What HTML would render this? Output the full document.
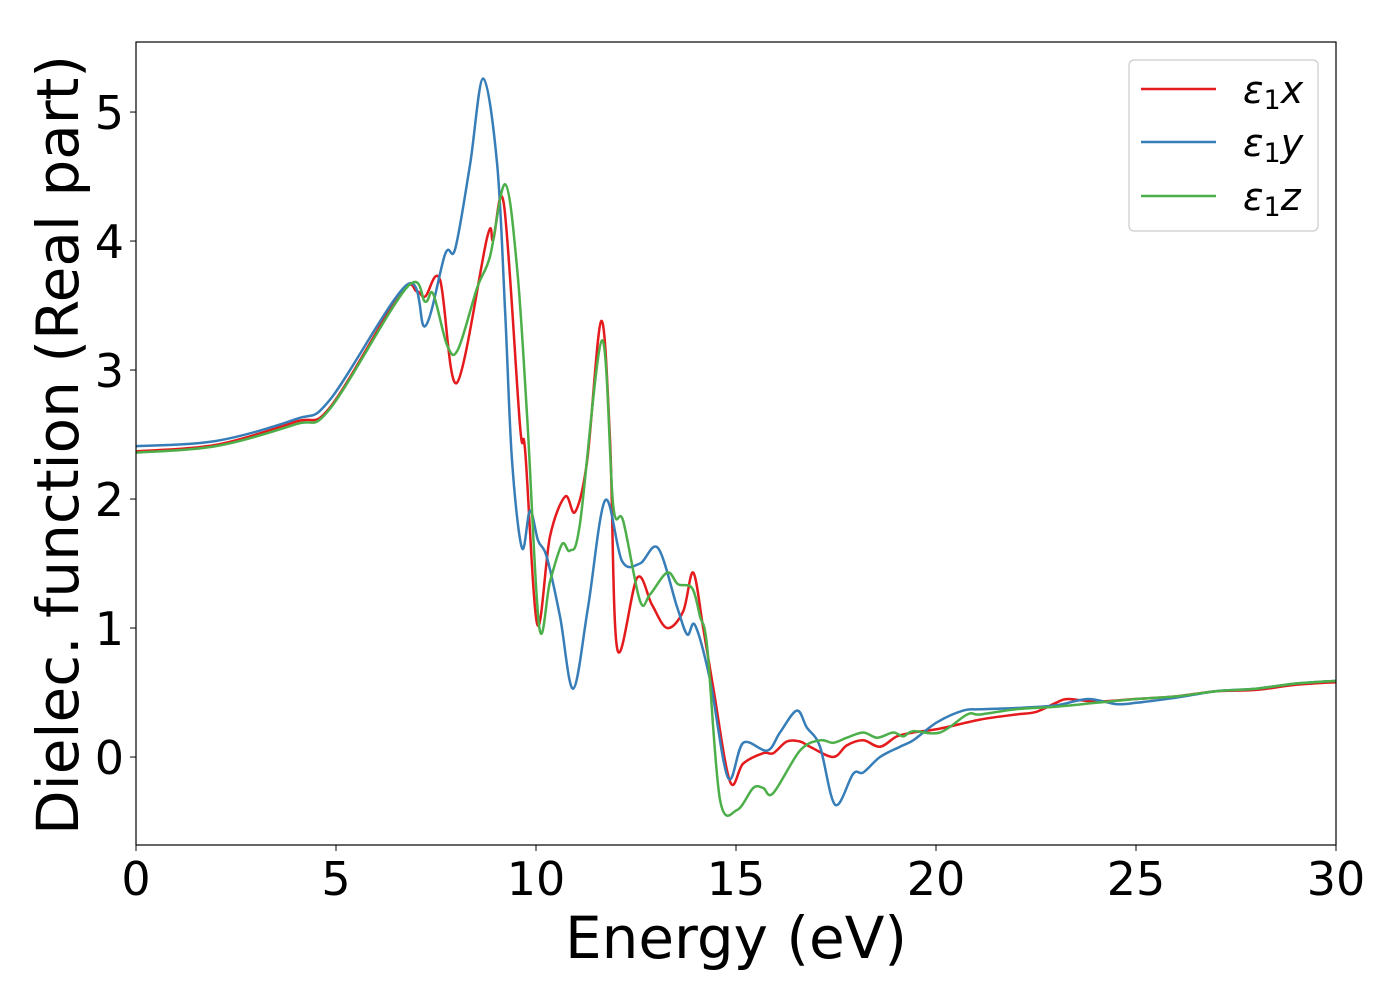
<!DOCTYPE html>
<html><head><meta charset="utf-8"><style>
html,body{margin:0;padding:0;background:#fff;}
svg{display:block;font-family:"DejaVu Sans","Liberation Sans",sans-serif;}
</style></head><body>
<svg id="chart" width="1400" height="1000" viewBox="0 0 1400 1000" xmlns="http://www.w3.org/2000/svg">
<rect x="0" y="0" width="1400" height="1000" fill="#fff"/>
<g id="series"></g>
<g id="axes"></g>
<rect x="136" y="42" width="1200" height="803" fill="none" stroke="#000" stroke-width="1.2"/>
<text x="736" y="958" font-size="58" text-anchor="middle">Energy (eV)</text>
<text transform="translate(78,445) rotate(-90)" font-size="58" text-anchor="middle">Dielec. function (Real part)</text>
<g>
<rect x="1129" y="60" width="189" height="171" rx="5" fill="#fff" stroke="#ccc" stroke-width="1.2"/>
<line x1="1141" y1="89" x2="1216" y2="89" stroke="#e41a1c" stroke-width="2.5"/>
<text x="1243" y="103" font-size="38" font-style="italic">ε<tspan font-style="normal" font-size="27" dy="6">1</tspan><tspan dy="-6">x</tspan></text>
<line x1="1141" y1="142" x2="1216" y2="142" stroke="#377eb8" stroke-width="2.5"/>
<text x="1243" y="156" font-size="38" font-style="italic">ε<tspan font-style="normal" font-size="27" dy="6">1</tspan><tspan dy="-6">y</tspan></text>
<line x1="1141" y1="196" x2="1216" y2="196" stroke="#4daf4a" stroke-width="2.5"/>
<text x="1243" y="210" font-size="38" font-style="italic">ε<tspan font-style="normal" font-size="27" dy="6">1</tspan><tspan dy="-6">z</tspan></text>
</g>
</svg>
<script>
const xTicks=[0,5,10,15,20,25,30];
const yTicks=[0,1,2,3,4,5];
const xE=[0,2,4,4.85,6.6,7.02,7.23,7.6,8.02,8.78,8.93,9.2,9.6,9.73,10.03,10.35,10.73,10.98,11.28,11.63,11.85,12.03,12.53,12.9,13.28,13.68,13.93,14.18,14.43,14.85,15.18,15.68,15.93,16.27,16.6,16.85,17.43,17.77,18.18,18.6,19.02,19.43,20.1,21.1,22,22.5,23,23.3,24,25,26,27,28,29,30];
const xV=[2.37,2.42,2.6,2.71,3.59,3.61,3.57,3.7,2.9,4.03,4.01,4.28,2.57,2.37,1.03,1.71,2.02,1.9,2.3,3.38,2.46,0.84,1.39,1.18,1.0,1.13,1.43,1.0,0.54,-0.19,-0.05,0.03,0.03,0.12,0.12,0.08,0.0,0.09,0.13,0.08,0.16,0.19,0.22,0.29,0.33,0.35,0.42,0.45,0.43,0.45,0.47,0.51,0.52,0.56,0.58];
const yE=[0,2,4,4.85,6.77,7.23,7.73,7.98,8.35,8.68,9.03,9.23,9.4,9.65,9.85,10.05,10.27,10.6,10.93,11.3,11.73,12.15,12.6,13.05,13.53,13.78,13.98,14.35,14.8,15.18,15.78,16.1,16.52,16.77,17.1,17.48,17.93,18.18,18.6,19.1,19.43,20.03,20.68,21.1,22,23,23.8,24.5,25,26,27,28,29,30];
const yV=[2.41,2.45,2.62,2.77,3.66,3.34,3.9,3.94,4.59,5.26,4.59,3.44,2.3,1.62,1.91,1.68,1.55,1.09,0.53,1.16,1.99,1.52,1.5,1.62,1.16,0.95,1.02,0.6,-0.16,0.11,0.05,0.19,0.36,0.23,0.08,-0.37,-0.13,-0.12,0.0,0.08,0.13,0.27,0.36,0.37,0.38,0.4,0.45,0.41,0.42,0.46,0.51,0.53,0.57,0.59];
const zE=[0,2,4,4.85,6.77,7.23,7.43,7.78,8.05,8.53,8.85,9.23,9.53,9.78,10.08,10.35,10.65,10.85,11.1,11.65,11.93,12.18,12.6,12.85,13.28,13.55,13.9,14.1,14.28,14.6,15.03,15.43,15.68,15.93,16.6,17.1,17.43,17.77,18.18,18.53,18.93,19.18,19.43,20.1,20.78,21.1,22,23,24,25,26,27,28,29,30];
const zV=[2.36,2.41,2.58,2.7,3.64,3.53,3.59,3.19,3.16,3.64,3.88,4.44,3.78,2.63,1.01,1.36,1.65,1.6,1.81,3.23,1.95,1.83,1.21,1.26,1.43,1.34,1.31,1.09,0.85,-0.33,-0.41,-0.24,-0.24,-0.28,0.05,0.13,0.11,0.15,0.19,0.15,0.19,0.16,0.2,0.19,0.33,0.33,0.37,0.39,0.42,0.45,0.47,0.51,0.53,0.57,0.59];
const NS="http://www.w3.org/2000/svg";
const X0=136,X1=1336,Y0=845,Y1=42,xmin=0,xmax=30,ymin=-0.682,ymax=5.543;
function sx(v){return X0+(v-xmin)/(xmax-xmin)*(X1-X0);}
function sy(v){return Y0-(v-ymin)/(ymax-ymin)*(Y0-Y1);}
function pathFor(E,V){
  const p=E.map((e,i)=>[sx(e),sy(V[i])]);
  let d="M"+p[0][0].toFixed(1)+","+p[0][1].toFixed(1);
  for(let i=0;i<p.length-1;i++){
    const a=p[Math.max(i-1,0)],b=p[i],c=p[i+1],e=p[Math.min(i+2,p.length-1)];
    const c1=[b[0]+(c[0]-a[0])/6,b[1]+(c[1]-a[1])/6];
    const c2=[c[0]-(e[0]-b[0])/6,c[1]-(e[1]-b[1])/6];
    d+="C"+c1[0].toFixed(1)+","+c1[1].toFixed(1)+" "+c2[0].toFixed(1)+","+c2[1].toFixed(1)+" "+c[0].toFixed(1)+","+c[1].toFixed(1);
  }
  return d;
}
const sg=document.getElementById("series");
function addSeries(E,V,color,name){
  const el=document.createElementNS(NS,"path");
  el.setAttribute("d",pathFor(E,V));
  el.setAttribute("fill","none");
  el.setAttribute("stroke",color);
  el.setAttribute("stroke-width","2.5");
  el.setAttribute("stroke-linejoin","round");
  
  
  sg.appendChild(el);
}
addSeries(xE,xV,"#e41a1c","series-eps1-x");
addSeries(yE,yV,"#377eb8","series-eps1-y");
addSeries(zE,zV,"#4daf4a","series-eps1-z");
const ag=document.getElementById("axes");
xTicks.forEach(t=>{
  const l=document.createElementNS(NS,"line");
  l.setAttribute("x1",sx(t));l.setAttribute("x2",sx(t));
  l.setAttribute("y1",Y0);l.setAttribute("y2",Y0+6);
  l.setAttribute("stroke","#000");
  
  
  ag.appendChild(l);
  const tx=document.createElementNS(NS,"text");
  tx.setAttribute("x",sx(t));tx.setAttribute("y",Y0+50);
  tx.setAttribute("font-size","46");tx.setAttribute("text-anchor","middle");
  tx.textContent=t;
  
  
  ag.appendChild(tx);
});
yTicks.forEach(t=>{
  const l=document.createElementNS(NS,"line");
  l.setAttribute("x1",X0-6);l.setAttribute("x2",X0);
  l.setAttribute("y1",sy(t));l.setAttribute("y2",sy(t));
  l.setAttribute("stroke","#000");
  
  
  ag.appendChild(l);
  const tx=document.createElementNS(NS,"text");
  tx.setAttribute("x",X0-12);tx.setAttribute("y",sy(t)+17);
  tx.setAttribute("font-size","46");tx.setAttribute("text-anchor","end");
  tx.textContent=t;
  
  
  ag.appendChild(tx);
});
</script>
</body></html>
